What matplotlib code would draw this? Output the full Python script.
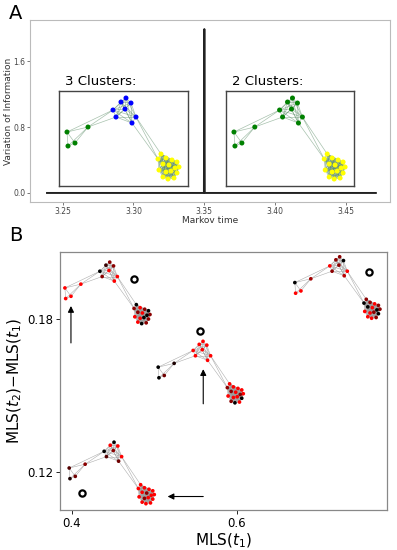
import matplotlib
matplotlib.use("Agg")
import matplotlib.pyplot as plt
import numpy as np
from matplotlib.collections import LineCollection
from matplotlib.colors import LinearSegmentedColormap

# === Panel A: VI vs Markov time ===
markov_time = [3.239, 3.3497, 3.35, 3.3503, 3.471]
var_info = [0.0, 0.0, 1.99, 0.0, 0.0]
a_xticks = [3.25, 3.30, 3.35, 3.40, 3.45]
a_yticks = [0.0, 0.8, 1.6]
inset_titles = ["3 Clusters:", "2 Clusters:"]

# === Network layout (shared by every drawing), inset-box units ===
# 4 left nodes, 8 top nodes, 16 bottom-right nodes
node_x = [8, 29, 9, 16,
          67, 62, 72, 54, 66, 57, 77, 73,
          102, 99, 107, 113, 118, 104, 110, 120, 100, 112, 118, 104, 109, 115, 107, 116]
node_y = [54, 59, 40, 43,
          88, 84, 83, 76, 77, 69, 69, 63,
          32, 27, 28, 26, 24, 22, 21, 19, 16, 15, 13, 9, 7, 8, 14, 18]
groups = [0, 0, 0, 0] + [1] * 8 + [2] * 16
bridge_edges = [(0, 1), (0, 2), (0, 3), (2, 3), (3, 1), (2, 1),
                (1, 7), (1, 9), (0, 7),
                (10, 12), (11, 13), (10, 13)]

# colours of the groups in the two insets of A
inset_colors = [["green", "blue", "yellow"], ["green", "green", "yellow"]]

# === Panel B: four networks, coloured black -> red ===
b_net_x = [0.3841, 0.4972, 0.6629, 0.3893]   # data position of layout origin
b_net_y = [0.1761, 0.1450, 0.1782, 0.1054]
b_node_vals = [
    [1, 1, 1, 1,  0.5, 0.2, 0.5, 0, 1, 0.5, 1, 1,
     0, 0.5, 1, 0.5, 0, 0.5, 1, 0.5, 1, 0, 0.5, 1, 0, 0.5, 1, 0],
    [0, 0.1, 0, 0.4,  1, 1, 1, 1, 1, 1, 1, 1,
     1, 0.5, 1, 1, 1, 0.5, 1, 1, 1, 1, 0, 0.5, 0, 1, 1, 0.5],
    [0, 0.6, 1, 1,  0.5, 0.5, 0, 1, 0.5, 0.5, 1, 0.7,
     0.5, 0, 0.5, 1, 0.5, 0, 1, 0.5, 1, 0.5, 0, 1, 1, 0.5, 1, 0],
    [0.3, 0.5, 0.1, 0.4,  0, 1, 1, 0, 0.5, 0.3, 1, 0.4,
     1, 1, 1, 1, 1, 1, 0.5, 1, 1, 1, 1, 1, 1, 1, 0.5, 1],
]
circle_x = [0.4752, 0.5552, 0.7600, 0.4121]
circle_y = [0.1957, 0.1753, 0.1984, 0.1118]
# arrows: (tail x, tail y, head x, head y)
arrows = [(0.3988, 0.1706, 0.3988, 0.1851),
          (0.5592, 0.1467, 0.5592, 0.1603),
          (0.5592, 0.1103, 0.5160, 0.1103)]
b_xticks = [0.4, 0.6]
b_yticks = [0.12, 0.18]


def edge_list():
    edges = list(bridge_edges)
    n = len(node_x)
    for i in range(n):
        for j in range(i + 1, n):
            if groups[i] == groups[j] and groups[i] > 0:
                edges.append((i, j))
    return edges


EDGES = edge_list()


def draw_network(ax, xs, ys, colors, size, edge_color, edge_lw, edge_alpha):
    segs = [[(xs[i], ys[i]), (xs[j], ys[j])] for i, j in EDGES]
    ax.add_collection(LineCollection(segs, colors=edge_color, linewidths=edge_lw,
                                     alpha=edge_alpha, zorder=2))
    ax.scatter(xs, ys, s=size, c=colors, linewidths=0, zorder=3)


fig = plt.figure(figsize=(3.97, 5.5), dpi=100)

# ---------------- Panel A ----------------
axA = fig.add_axes([0.0756, 0.6327, 0.9068, 0.3309])
axA.plot(markov_time, var_info, color="#222222", lw=1.4)
axA.set_xlim(3.227, 3.481)
axA.set_ylim(-0.11, 2.1)
axA.set_xticks(a_xticks)
axA.set_xticklabels(["%.2f" % v for v in a_xticks])
axA.set_yticks(a_yticks)
axA.set_yticklabels(["%.1f" % v for v in a_yticks])
axA.tick_params(labelsize=5.5, colors="#444444", length=2, width=0.5, pad=1.5)
for s in axA.spines.values():
    s.set_color("#bbbbbb")
    s.set_linewidth(0.8)
axA.set_ylabel("Variation of Information", fontsize=6.5, color="#333333")
axA.yaxis.set_label_coords(-0.047, 0.5)
axA.set_xlabel("Markov time", fontsize=6.5, color="#333333")
axA.xaxis.set_label_coords(0.5, -0.075)

inset_pos = [[0.1486, 0.6618, 0.3249, 0.1727], [0.5693, 0.6618, 0.3224, 0.1727]]
for k in range(2):
    ax_in = fig.add_axes(inset_pos[k])
    cols = [inset_colors[k][g] for g in groups]
    draw_network(ax_in, node_x, node_y, cols, 13, "#5f8f6a", 0.5, 0.55)
    ax_in.set_xlim(0, 129)
    ax_in.set_ylim(0, 95)
    ax_in.set_xticks([])
    ax_in.set_yticks([])
    for s in ax_in.spines.values():
        s.set_color("#444444")
        s.set_linewidth(1.0)
    fig.text(inset_pos[k][0] + 0.016, 0.852, inset_titles[k], fontsize=9.5,
             va="center", ha="left")

fig.text(0.022, 0.975, "A", fontsize=14, va="center", ha="left")

# ---------------- Panel B ----------------
axB = fig.add_axes([0.1511, 0.0727, 0.8237, 0.4691])
axB.set_xlim(0.3855, 0.782)
axB.set_ylim(0.105, 0.2063)
cmap = LinearSegmentedColormap.from_list("kr", ["#000000", "#8b0000", "#ff0000"])
sx = 0.76 / 825.0
sy = 0.76 / 2550.0
for k in range(4):
    xs = [b_net_x[k] + v * sx for v in node_x]
    ys = [b_net_y[k] + v * sy for v in node_y]
    cols = [cmap(float(v)) for v in b_node_vals[k]]
    draw_network(axB, xs, ys, cols, 7, "#9a9a9a", 0.4, 0.8)
axB.plot(circle_x, circle_y, "o", ms=4.5, mfc="white", mec="black", mew=1.6,
         ls="none", zorder=4)
for tx, ty, hx, hy in arrows:
    axB.annotate("", xy=(hx, hy), xytext=(tx, ty),
                 arrowprops=dict(arrowstyle="-|>", color="black", lw=0.8,
                                 mutation_scale=9, shrinkA=0, shrinkB=0))
axB.set_xticks(b_xticks)
axB.set_xticklabels(["%.1f" % v for v in b_xticks])
axB.set_yticks(b_yticks)
axB.set_yticklabels(["%.2f" % v for v in b_yticks])
axB.tick_params(labelsize=8.5, length=3, width=0.6, pad=2)
for s in axB.spines.values():
    s.set_color("#888888")
    s.set_linewidth(0.9)
axB.set_xlabel("MLS($t_1$)", fontsize=11)
axB.xaxis.set_label_coords(0.5, -0.082)
axB.set_ylabel("MLS($t_2$)$-$MLS($t_1$)", fontsize=11)
axB.yaxis.set_label_coords(-0.11, 0.5)

fig.text(0.022, 0.572, "B", fontsize=14, va="center", ha="left")

fig.savefig("out.png", dpi=100)
